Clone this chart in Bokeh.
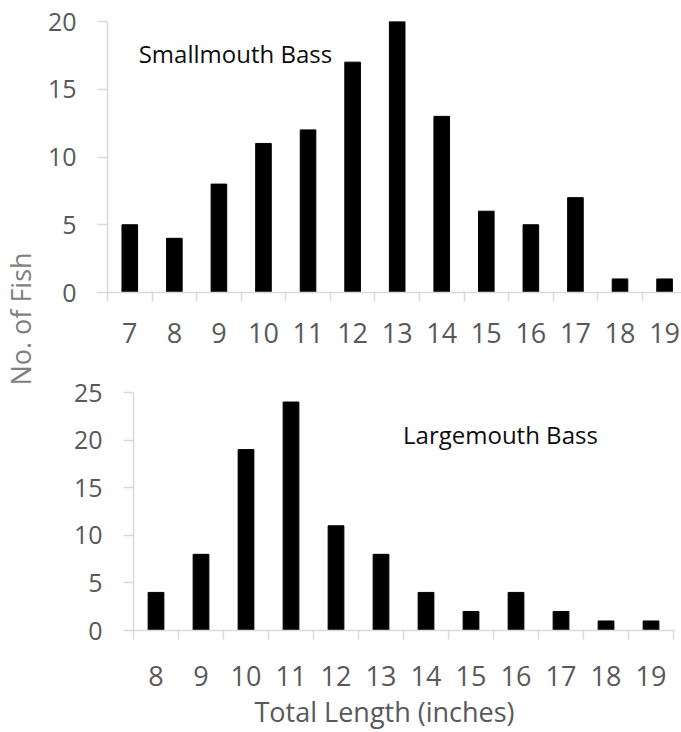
from bokeh.plotting import figure
from bokeh.models import Range1d, FixedTicker, Label, Title, Spacer
from bokeh.layouts import row, column
from bokeh.embed import file_html
from bokeh.resources import INLINE
import math

# ---- data ----
sm_lengths = [7, 8, 9, 10, 11, 12, 13, 14, 15, 16, 17, 18, 19]
sm_counts = [5, 4, 8, 11, 12, 17, 20, 13, 6, 5, 7, 1, 1]
lm_lengths = [8, 9, 10, 11, 12, 13, 14, 15, 16, 17, 18, 19]
lm_counts = [4, 8, 19, 24, 11, 8, 4, 2, 4, 2, 1, 1]
sm_yticks = [0, 5, 10, 15, 20]
lm_yticks = [0, 5, 10, 15, 20, 25]
sm_name = "Smallmouth Bass"
lm_name = "Largemouth Bass"
y_title = "No. of Fish"
x_title = "Total Length (inches)"

FONT = "Open Sans"
TICK_COLOR = "#595959"
AXIS_COLOR = "#d9d9d9"


def make_fig(w, h, xr, yr, bl, bt, bb):
    p = figure(width=w, height=h, x_range=xr, y_range=yr,
               output_backend="svg", toolbar_location=None,
               min_border_left=bl, min_border_right=0,
               min_border_top=bt, min_border_bottom=bb)
    p.outline_line_color = None
    p.grid.visible = False
    p.background_fill_color = "white"
    p.border_fill_color = "white"
    return p


def style_axes(p, xticks, yticks, x_standoff):
    minor = [t - 0.5 for t in xticks] + [xticks[-1] + 0.5]
    xa = p.xaxis[0]
    xa.ticker = FixedTicker(ticks=xticks, minor_ticks=minor)
    xa.major_tick_line_color = None
    xa.major_tick_out = 0
    xa.major_tick_in = 0
    xa.minor_tick_out = 9
    xa.minor_tick_in = 0
    xa.minor_tick_line_color = AXIS_COLOR
    xa.minor_tick_line_width = 1.5
    xa.axis_line_color = AXIS_COLOR
    xa.axis_line_width = 1.5
    xa.major_label_text_font = FONT
    xa.major_label_text_font_size = "27px"
    xa.major_label_text_color = TICK_COLOR
    xa.major_label_standoff = x_standoff

    ya = p.yaxis[0]
    ya.ticker = FixedTicker(ticks=yticks)
    ya.major_tick_out = 10
    ya.major_tick_in = 0
    ya.major_tick_line_color = AXIS_COLOR
    ya.major_tick_line_width = 1.5
    ya.minor_tick_line_color = None
    ya.axis_line_color = AXIS_COLOR
    ya.axis_line_width = 1.5
    ya.major_label_text_font = FONT
    ya.major_label_text_font_size = "25px"
    ya.major_label_text_color = TICK_COLOR
    ya.major_label_standoff = 21


# ---- top: smallmouth ----
p1 = make_fig(641, 362, Range1d(6.5, 19.38), Range1d(0, 20), 67, 21, 70)
p1.vbar(x=sm_lengths, top=sm_counts, width=0.35, color="black")
style_axes(p1, sm_lengths, sm_yticks, 21)
p1.add_layout(Label(x=7.2, y=17.64, text=sm_name, text_font=FONT,
                    text_font_size="24px", text_color="#0d0d0d",
                    text_baseline="alphabetic", text_align="left"))

# ---- bottom: largemouth ----
p2 = make_fig(609, 370, Range1d(7.5, 19.544), Range1d(0, 25), 67, 30, 102)
p2.vbar(x=lm_lengths, top=lm_counts, width=0.35, color="black")
style_axes(p2, lm_lengths, lm_yticks, 26)
p2.add_layout(Label(x=13.49, y=20.6, text=lm_name, text_font=FONT,
                    text_font_size="24px", text_color="#0d0d0d",
                    text_baseline="alphabetic", text_align="left"))
p2.add_layout(Title(text=x_title, align="left", offset=121, standoff=4,
                    text_font=FONT, text_font_size="27px",
                    text_font_style="normal", text_color=TICK_COLOR), "below")

# ---- left strip with shared y title ----
H = 362 + 370
ps = figure(width=40, height=H, x_range=Range1d(0, 40), y_range=Range1d(0, H),
            output_backend="svg", toolbar_location=None,
            x_axis_location=None, y_axis_location=None,
            min_border_left=0, min_border_right=0, min_border_top=0, min_border_bottom=0)
ps.grid.visible = False
ps.outline_line_color = None
ps.border_fill_color = "white"
ps.add_layout(Label(x=20, y=H - 318.5, text=y_title, angle=math.pi / 2,
                    text_font=FONT, text_font_size="27px", text_color="#7f7f7f",
                    text_baseline="middle", text_align="center"))

layout = row(ps, column(p1, row(Spacer(width=26, height=370), p2)))
open("out.html", "w").write(file_html(layout, INLINE))
